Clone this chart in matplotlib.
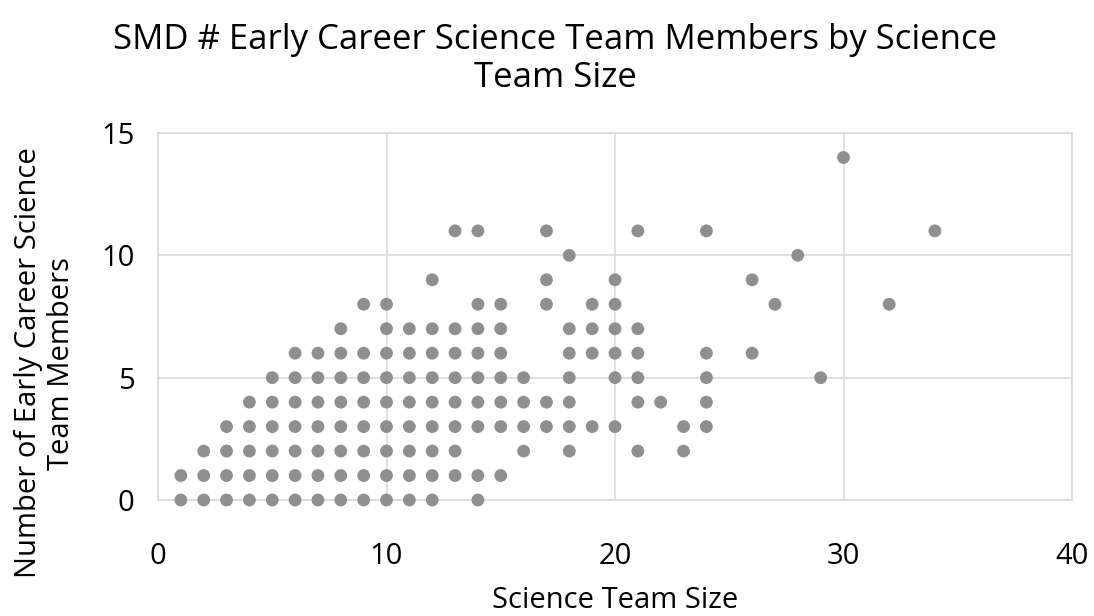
import matplotlib.pyplot as plt

plt.rcParams['font.family'] = ['Open Sans', 'DejaVu Sans']

# team size -> early career member counts observed at that size
team_size = [1, 2, 3, 4, 5, 6, 7, 8, 9, 10, 11, 12, 13, 14, 15, 16, 17,
             18, 19, 20, 21, 22, 23, 24, 26, 27, 28, 29, 30, 32, 34]
early_career = [
    [0, 1],
    [0, 1, 2],
    [0, 1, 2, 3],
    [0, 1, 2, 3, 4],
    [0, 1, 2, 3, 4, 5],
    [0, 1, 2, 3, 4, 5, 6],
    [0, 1, 2, 3, 4, 5, 6],
    [0, 1, 2, 3, 4, 5, 6, 7],
    [0, 1, 2, 3, 4, 5, 6, 8],
    [0, 1, 2, 3, 4, 5, 6, 7, 8],
    [0, 1, 2, 3, 4, 5, 6, 7],
    [0, 1, 2, 3, 4, 5, 6, 7, 9],
    [1, 2, 3, 4, 5, 6, 7, 11],
    [0, 1, 3, 4, 5, 6, 7, 8, 11],
    [1, 3, 4, 5, 6, 7, 8],
    [2, 3, 4, 5],
    [3, 4, 8, 9, 11],
    [2, 3, 4, 5, 6, 7, 10],
    [3, 6, 7, 8],
    [3, 5, 6, 7, 8, 9],
    [2, 4, 5, 6, 7, 11],
    [4],
    [2, 3],
    [3, 4, 5, 6, 11],
    [6, 9],
    [8],
    [10],
    [5],
    [14],
    [8],
    [11],
]

xs = [s for s, ys in zip(team_size, early_career) for _ in ys]
ys = [y for ys_ in early_career for y in ys_]

fig = plt.figure(figsize=(10.94, 6.16), dpi=100)
ax = fig.add_axes([158 / 1094, 1 - 500 / 616, 914 / 1094, 367 / 616])

ax.scatter(xs, ys, s=85, color='#8f8f8f', edgecolors='none', zorder=3,
           clip_on=False)

ax.set_xlim(0, 40)
ax.set_ylim(0, 15)
ax.set_xticks([0, 10, 20, 30, 40])
ax.set_yticks([0, 5, 10, 15])
ax.grid(True, color='#d9d9d9', linewidth=1.1)
for sp in ax.spines.values():
    sp.set_color('#d9d9d9')
    sp.set_linewidth(1.1)
ax.tick_params(length=0, labelsize=21, colors='black')
ax.tick_params(axis='x', pad=30)
ax.tick_params(axis='y', pad=17)

ax.set_xlabel('Science Team Size', fontsize=21)
ax.xaxis.set_label_coords(0.5, -0.235)
ax.set_ylabel('Number of Early Career Science\nTeam Members', fontsize=21,
              linespacing=1.15)
ax.yaxis.set_label_coords(-0.09, 0.373)

fig.text(555 / 1094, 1 - 59 / 616,
         'SMD # Early Career Science Team Members by Science\nTeam Size',
         ha='center', va='center', fontsize=25, linespacing=1.15)

fig.savefig('out.png', dpi=100)
